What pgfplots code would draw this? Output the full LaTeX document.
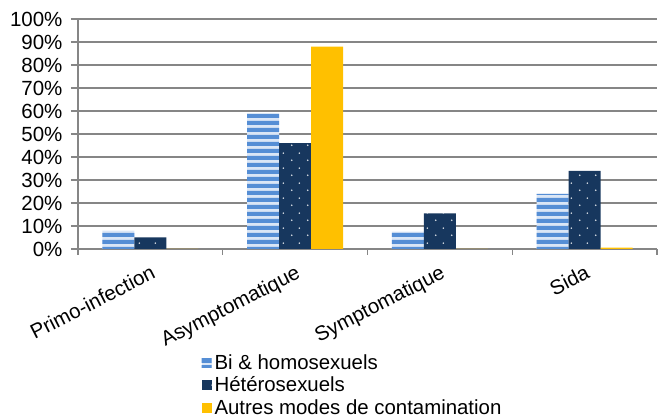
\documentclass[border=0pt]{standalone}
\usepackage{pgfplots}
\pgfplotsset{compat=1.18}
\usepackage{fontspec}
\setmainfont{Liberation Sans}
\usetikzlibrary{patterns}

\definecolor{stripeblue}{RGB}{85,142,213}
\definecolor{lightblue}{RGB}{218,230,246}
\definecolor{navy}{RGB}{23,55,94}
\definecolor{gold}{RGB}{255,192,0}
\definecolor{gridgray}{RGB}{134,134,134}

\pgfdeclarepatternformonly{hstripes}{\pgfqpoint{0pt}{0pt}}{\pgfqpoint{700pt}{7pt}}{\pgfqpoint{700pt}{7pt}}{%
  \pgfpathrectangle{\pgfqpoint{0pt}{0pt}}{\pgfqpoint{700pt}{4.6pt}}\pgfusepath{fill}}
\pgfdeclarepatternformonly{sdots}{\pgfqpoint{0pt}{0pt}}{\pgfqpoint{16pt}{15pt}}{\pgfqpoint{16pt}{15pt}}{%
  \pgfpathcircle{\pgfqpoint{4pt}{4pt}}{0.9pt}%
  \pgfpathcircle{\pgfqpoint{12pt}{11.5pt}}{0.9pt}%
  \pgfusepath{fill}}

\begin{document}
\begin{tikzpicture}
\useasboundingbox (0,0) rectangle (661pt,419pt);
\begin{axis}[
  at={(78pt,170pt)}, anchor=south west,
  scale only axis, width=579pt, height=230pt,
  ybar=0pt, bar width=32pt,
  xmin=-0.5, xmax=3.5, ymin=0, ymax=100,
  axis lines*=left,
  axis line style={gridgray, line width=1.2pt},
  xtick={0,1,2,3},
  xticklabels={Primo-infection, Asymptomatique, Symptomatique, Sida},
  minor xtick={-0.5,0.5,1.5,2.5,3.5},
  major x tick style={opacity=0},
  minor x tick style={gridgray, line width=1.2pt},
  ytick={0,10,...,100},
  ytick style={gridgray, line width=1.2pt},
  yticklabel={\pgfmathprintnumber{\tick}\%},
  /pgf/number format/assume math mode=true,
  tick align=outside,
  major tick length=7pt, minor tick length=6pt,
  ymajorgrids,
  major grid style={gridgray, line width=1.2pt},
  tick label style={font=\fontsize{20.5}{24}\selectfont},
  yticklabel style={xshift=-5pt},
  xticklabel style={rotate=27, anchor=north east, inner sep=1pt, xshift=-3pt, yshift=-6pt},
  legend style={at={(0.213,-0.452)}, anchor=north west, draw=none, fill=none,
    font=\fontsize{20.4}{22}\selectfont, inner sep=0pt,
    nodes={inner sep=1.5pt, inner xsep=3pt}, row sep=3pt},
  legend cell align=left,
  legend image code/.code={\draw[#1, draw=none] (0pt,-5pt) rectangle (10pt,5pt);},
]
\addplot[draw=none, fill=lightblue, postaction={pattern=hstripes, pattern color=stripeblue}]
  coordinates {(0,8) (1,59) (2,7.5) (3,24)};
\addplot[draw=none, fill=navy, postaction={pattern=sdots, pattern color=white!85!navy}]
  coordinates {(0,5) (1,46) (2,15.5) (3,34)};
\addplot[draw=none, fill=gold]
  coordinates {(0,0) (1,88) (2,0) (3,0.6)};
\legend{Bi \& homosexuels, Hétérosexuels, Autres modes de contamination}
\end{axis}
\end{tikzpicture}
\end{document}
